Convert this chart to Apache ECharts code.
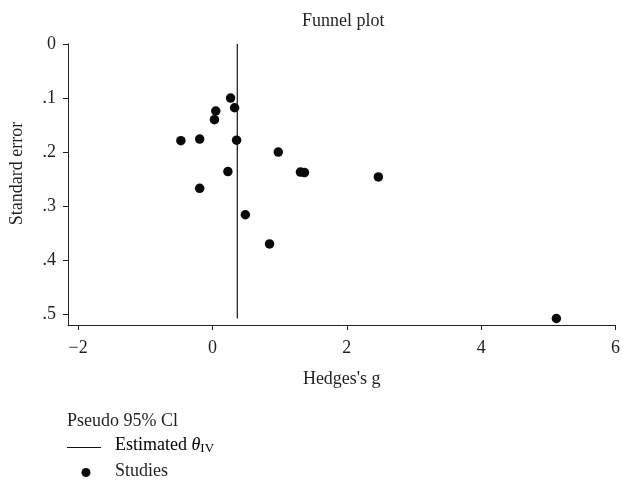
<!DOCTYPE html>
<html><head><meta charset="utf-8">
<script src="https://cdn.jsdelivr.net/npm/echarts@6/dist/echarts.min.js"></script>
<style>html,body{margin:0;padding:0;background:#fff}#c{width:623px;height:481px}</style>
</head><body><div id="c"></div>
<script>
// Data
const hedgesG = [-0.47, -0.19, 0.03, 0.05, 0.27, 0.33, 0.36, 0.98, 0.23, -0.19, 0.49, 0.85, 1.31, 1.37, 2.47, 5.12];
const stdErr  = [0.179, 0.176, 0.140, 0.124, 0.100, 0.118, 0.178, 0.200, 0.236, 0.267, 0.316, 0.370, 0.237, 0.238, 0.246, 0.508];
const thetaIV = 0.37;
const seRange = [0, 0.508];
const xTicks = [-2, 0, 2, 4, 6];
const yTicks = [0, 0.1, 0.2, 0.3, 0.4, 0.5];

const FONT = '"Liberation Serif", "DejaVu Serif", serif';
const TXT = '#231f20';
const studies = hedgesG.map((g, i) => [g, stdErr[i]]);
const lineData = seRange.map(s => [thetaIV, s]);

const chart = echarts.init(document.getElementById('c'), null, {renderer: 'canvas'});
chart.setOption({
  animation: false,
  backgroundColor: '#fff',
  title: {
    text: 'Funnel plot', left: 297, top: 7,
    textStyle: {fontFamily: FONT, fontSize: 18, fontWeight: 'normal', color: TXT}
  },
  grid: {left: 67, right: 4, top: 44, bottom: 156, containLabel: false},
  xAxis: {
    type: 'value', min: -2.15, max: 6,
    name: "Hedges's g", nameLocation: 'middle', nameGap: 45,
    nameTextStyle: {fontFamily: FONT, fontSize: 18, color: TXT},
    axisLine: {show: true, onZero: false, lineStyle: {color: '#222', width: 1}},
    axisTick: {show: true, length: 5, customValues: xTicks, lineStyle: {color: '#222'}},
    axisLabel: {customValues: xTicks, margin: 14, fontFamily: FONT, fontSize: 18, color: TXT,
      formatter: v => (v < 0 ? '\u2212' + Math.abs(v) : String(v))},
    splitLine: {show: false}
  },
  yAxis: {
    type: 'value', inverse: true, min: 0, max: 0.52,
    name: 'Standard error', nameLocation: 'middle', nameGap: 42, nameRotate: 90,
    nameTextStyle: {fontFamily: FONT, fontSize: 18, color: TXT, padding: [0, 0, 0, 22]},
    axisLine: {show: true, onZero: false, lineStyle: {color: '#222', width: 1}},
    axisTick: {show: true, length: 5, customValues: yTicks, lineStyle: {color: '#222'}},
    axisLabel: {customValues: yTicks, margin: 12, fontFamily: FONT, fontSize: 18, color: TXT,
      formatter: v => (Math.abs(v) < 1e-9 ? '0' : '.' + Math.round(v * 10))},
    splitLine: {show: false}
  },
  series: [
    {
      name: 'Estimated', type: 'line', data: lineData, symbol: 'none',
      lineStyle: {color: '#111', width: 1.2}, silent: true
    },
    {
      name: 'Studies', type: 'scatter', data: studies, symbol: 'circle', symbolSize: 9.5,
      itemStyle: {color: '#0a0a0a', opacity: 1}
    }
  ],
  graphic: [
    {type: 'text', left: 67, top: 412, style: {text: 'Pseudo 95% Cl', font: '18px ' + FONT, fill: TXT}},
    {type: 'line', shape: {x1: 67, y1: 447.5, x2: 101, y2: 447.5}, style: {stroke: '#111', lineWidth: 1}},
    {type: 'text', left: 115, top: 436, style: {
      rich: {
        n: {fontFamily: FONT, fontSize: 18, color: TXT},
        t: {fontFamily: FONT, fontSize: 18, fontStyle: 'italic', color: TXT},
        s: {fontFamily: FONT, fontSize: 13, color: TXT, padding: [8, 0, 0, 0]}
      },
      text: '{n|Estimated }{t|\u03b8}{s|IV}'
    }},
    {type: 'circle', shape: {cx: 86, cy: 472.5, r: 4.5}, style: {fill: '#0a0a0a'}},
    {type: 'text', left: 115, top: 462, style: {text: 'Studies', font: '18px ' + FONT, fill: TXT}}
  ]
});
</script>
</body></html>
